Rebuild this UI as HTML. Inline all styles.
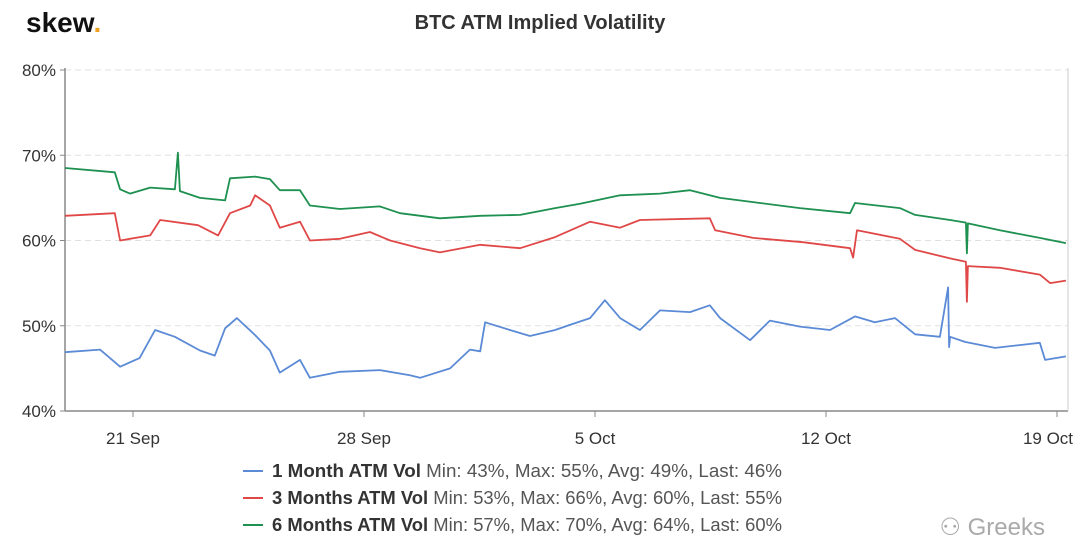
<!DOCTYPE html>
<html><head><meta charset="utf-8"><style>
body{margin:0;background:#fff;font-family:"Liberation Sans",sans-serif;}
#wrap{position:relative;width:1080px;height:543px;overflow:hidden;}
</style></head><body>
<div id="wrap">
<svg id="chart" width="1080" height="543">
<text x="26" y="32" font-size="28" font-weight="bold" fill="#111">skew<tspan fill="#f0a020">.</tspan></text>
<text x="540" y="29" font-size="20" font-weight="bold" fill="#333" text-anchor="middle">BTC ATM Implied Volatility</text>
<g id="grid"></g><g id="axes"></g><g id="series"></g><g id="legend"></g>
<text x="1045" y="535" font-size="24" fill="#aaa" text-anchor="end">⚇ Greeks</text>
</svg></div>
<script>
const yTicks=[40,50,60,70,80];
const xTickDays=[21,28,35,42,49];
const xTickLabels=["21 Sep","28 Sep","5 Oct","12 Oct","19 Oct"];
const t1=[18.94,20,20.61,21.2,21.67,22.27,23.03,23.48,23.79,24.15,24.70,25.15,25.45,26.06,26.36,27.27,28.48,29.39,29.70,30.61,31.21,31.52,31.67,32.42,33.03,33.79,34.24,34.85,35.30,35.76,36.36,36.97,37.88,38.48,38.79,39.70,40.30,41.21,42.12,42.88,43.48,44.09,44.70,45.45,45.70,45.73,45.76,46.21,47.12,48.03,48.48,48.64,49.27];
const v1=[46.9,47.2,45.2,46.2,49.5,48.7,47.1,46.5,49.7,50.9,48.9,47.1,44.5,46.0,43.9,44.6,44.8,44.2,43.9,45.0,47.2,47.0,50.4,49.5,48.8,49.5,50.1,50.9,53.0,50.9,49.5,51.8,51.6,52.4,50.9,48.3,50.6,49.9,49.5,51.1,50.4,50.9,49.0,48.7,54.5,47.5,48.7,48.1,47.4,47.8,48.0,46.0,46.4];
const t3=[18.94,20.45,20.61,21.52,21.82,22.97,23.58,23.94,24.55,24.70,25.15,25.45,26.06,26.36,27.27,28.18,28.79,29.70,30.30,31.52,32.73,33.79,34.85,35.76,36.36,38.48,38.64,39.79,41.30,42.73,42.82,42.94,44.24,44.70,45.76,46.24,46.27,46.30,47.27,48.48,48.79,49.27];
const v3=[62.9,63.2,60.0,60.6,62.4,61.8,60.6,63.2,64.1,65.3,64.1,61.5,62.2,60.0,60.2,61.0,60.0,59.1,58.6,59.5,59.1,60.4,62.2,61.5,62.4,62.6,61.2,60.3,59.8,59.1,58.0,61.2,60.2,58.9,57.9,57.5,52.8,57.0,56.8,56.0,55.0,55.3];
const t6=[18.94,20.45,20.61,20.91,21.52,22.27,22.36,22.42,23.03,23.79,23.94,24.70,25.15,25.45,26.06,26.36,27.27,28.48,29.09,30.30,31.52,32.73,33.79,34.55,35.76,36.97,37.88,38.79,40.00,41.21,42.73,42.88,44.24,44.70,45.76,46.24,46.27,46.30,47.27,48.48,49.27];
const v6=[68.5,68.0,66.0,65.5,66.2,66.0,70.3,65.8,65.0,64.7,67.3,67.5,67.2,65.9,65.9,64.1,63.7,64.0,63.2,62.6,62.9,63.0,63.8,64.3,65.3,65.5,65.9,65.0,64.4,63.8,63.2,64.4,63.8,63.0,62.4,62.1,58.5,62.0,61.2,60.3,59.7];
const series=[{name:"1 Month ATM Vol",t:t1,v:v1,c:"#5b8ad6",stats:"Min: 43%, Max: 55%, Avg: 49%, Last: 46%",id:"1m"},
{name:"3 Months ATM Vol",t:t3,v:v3,c:"#e04848",stats:"Min: 53%, Max: 66%, Avg: 60%, Last: 55%",id:"3m"},
{name:"6 Months ATM Vol",t:t6,v:v6,c:"#1e9050",stats:"Min: 57%, Max: 70%, Avg: 64%, Last: 60%",id:"6m"}];
const L=65,R=1068,T=70,B=411;
const xS=d=>133+(d-21)*33;
const yS=v=>B-(v-40)*(B-T)/40;
const NS="http://www.w3.org/2000/svg";
function mk(tag,at,parent){const e=document.createElementNS(NS,tag);for(const k in at)e.setAttribute(k,at[k]);parent.appendChild(e);return e;}
const grid=document.getElementById('grid'),axes=document.getElementById('axes'),sg=document.getElementById('series'),lg=document.getElementById('legend');
yTicks.forEach(v=>{
 if(v>40){const g=mk('line',{x1:L,x2:R,y1:yS(v),y2:yS(v),stroke:'#e0e0e0','stroke-dasharray':'6,4'},grid);
 
 }
 const t=mk('text',{x:56,y:yS(v)+6,'font-size':17,fill:'#333','text-anchor':'end'},axes);t.textContent=v+'%';
 
 
 mk('line',{x1:L-5,x2:L,y1:yS(v),y2:yS(v),stroke:'#888'},axes);
});
const a1=mk('line',{x1:L,x2:L,y1:T-2,y2:B,stroke:'#888','stroke-width':1.5},axes);


const a2=mk('line',{x1:L,x2:R,y1:B,y2:B,stroke:'#888','stroke-width':1.5},axes);


mk('line',{x1:R,x2:R,y1:T-2,y2:B,stroke:'#ccc'},axes);
xTickDays.forEach((d,i)=>{
 mk('line',{x1:xS(d),x2:xS(d),y1:B,y2:B+6,stroke:'#888'},axes);
 const lx=Math.min(xS(d),1048);
 const t=mk('text',{x:lx,y:444,'font-size':17,fill:'#333','text-anchor':'middle'},axes);t.textContent=xTickLabels[i];
 
 
});
series.forEach((s,i)=>{
 const d=s.t.map((t,j)=>(j?'L':'M')+xS(t).toFixed(1)+','+yS(s.v[j]).toFixed(1)).join('');
 const p=mk('path',{d:d,fill:'none',stroke:s.c,'stroke-width':1.8,'stroke-linejoin':'round'},sg);
 
 
 const y=477+i*27;
 const g=mk('g',{},lg);
 
 
 mk('line',{x1:243,x2:263,y1:y-6,y2:y-6,stroke:s.c,'stroke-width':2},g);
 const t=mk('text',{x:272,y:y,'font-size':18,fill:'#333',textLength:510,lengthAdjust:'spacingAndGlyphs'},g);
 const b=mk('tspan',{'font-weight':'bold'},t);b.textContent=s.name;
 const r=mk('tspan',{fill:'#555'},t);r.textContent=' '+s.stats;
});
</script></body></html>
